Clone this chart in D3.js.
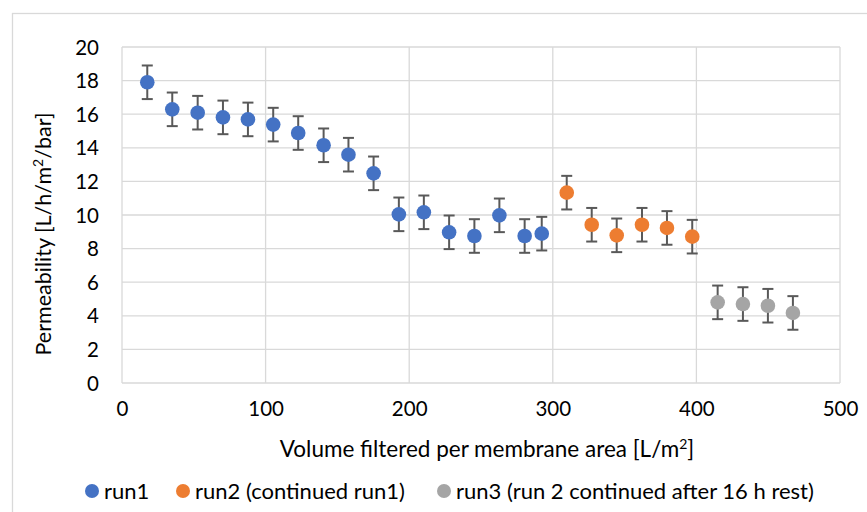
<!DOCTYPE html>
<html><head><meta charset="utf-8">
<script src="https://cdn.jsdelivr.net/npm/d3@7"></script>
<style>body{margin:0;background:#fff}svg{display:block}text{font-family:Lato,"Open Sans",sans-serif;fill:#000}</style>
</head><body>
<svg id="c" width="867" height="512"></svg>
<script>
const run1X=[17.6,35.0,52.7,70.3,87.7,105.3,122.7,140.4,157.7,175.2,192.8,210.2,227.8,245.4,262.8,280.4,292.3];
const run1Y=[17.9,16.29,16.09,15.81,15.69,15.38,14.88,14.15,13.59,12.48,10.04,10.16,8.97,8.75,9.98,8.75,8.89];
const run2X=[309.7,327.1,344.5,362.1,379.5,397.1];
const run2Y=[11.33,9.42,8.79,9.42,9.23,8.71];
const run3X=[414.8,432.4,449.8,467.2];
const run3Y=[4.80,4.70,4.60,4.17];
const errorBar=1.0;
const xTicks=[0,100,200,300,400,500];
const yTicks=[0,2,4,6,8,10,12,14,16,18,20];
const seriesNames=["run1","run2 (continued run1)","run3 (run 2 continued after 16 h rest)"];
const seriesColors=["#4472C4","#ED7D31","#A5A5A5"];

const svg=d3.select("#c");
const L=122,T=47,W=718,H=336;
const x=d3.scaleLinear().domain([0,500]).range([L,L+W]);
const y=d3.scaleLinear().domain([0,20]).range([T+H,T]);

// chart border
svg.append("rect").attr("x",12.5).attr("y",13.5).attr("width",870).attr("height",520)
  .attr("fill","none").attr("stroke","#D9D9D9").attr("stroke-width",1.3);

// grid
const g=svg.append("g");
g.selectAll(".hy").data(yTicks).join("line")
  .attr("x1",L).attr("x2",L+W).attr("y1",d=>y(d)).attr("y2",d=>y(d))
  .attr("stroke","#D9D9D9").attr("stroke-width",1.3);
g.selectAll(".vx").data(xTicks).join("line")
  .attr("y1",T).attr("y2",T+H).attr("x1",d=>x(d)).attr("x2",d=>x(d))
  .attr("stroke","#D9D9D9").attr("stroke-width",1.3);

// axes labels via d3 axes
const xa=svg.append("g").attr("transform",`translate(0,${T+H+15})`)
  .call(d3.axisBottom(x).tickValues(xTicks).tickSize(0).tickPadding(0));
xa.select(".domain").remove();
xa.selectAll("text").attr("font-size",20.5).attr("dy","0.9em").style("font-family","Lato,'Open Sans',sans-serif").attr("fill","#000");
const ya=svg.append("g").attr("transform",`translate(${L-23},0)`)
  .call(d3.axisLeft(y).tickValues(yTicks).tickSize(0).tickPadding(0));
ya.select(".domain").remove();
ya.selectAll("text").attr("font-size",20.5).attr("dy","0.35em").style("font-family","Lato,'Open Sans',sans-serif").attr("fill","#000");

// axis titles
const xt=svg.append("text").attr("x",487).attr("y",457).attr("text-anchor","middle").attr("font-size",22.5);
xt.append("tspan").text("Volume filtered per membrane area [L/m");
xt.append("tspan").attr("baseline-shift","super").attr("font-size",14).text("2");
xt.append("tspan").text("]");
const yt=svg.append("text").attr("transform",`translate(51,234) rotate(-90)`).attr("text-anchor","middle").attr("font-size",21.5);
yt.append("tspan").text("Permeability [L/h/m");
yt.append("tspan").attr("baseline-shift","super").attr("font-size",14).text("2");
yt.append("tspan").text("/bar]");

// series
const series=[[run1X,run1Y],[run2X,run2Y],[run3X,run3Y]];
series.forEach(([xs,ys],si)=>{
  const data=xs.map((v,i)=>({x:v,y:ys[i]}));
  const eg=svg.append("g").attr("stroke","#595959").attr("stroke-width",2);
  data.forEach(d=>{
    eg.append("line").attr("x1",x(d.x)).attr("x2",x(d.x)).attr("y1",y(d.y-errorBar)).attr("y2",y(d.y+errorBar));
    eg.append("line").attr("x1",x(d.x)-5.5).attr("x2",x(d.x)+5.5).attr("y1",y(d.y-errorBar)).attr("y2",y(d.y-errorBar));
    eg.append("line").attr("x1",x(d.x)-5.5).attr("x2",x(d.x)+5.5).attr("y1",y(d.y+errorBar)).attr("y2",y(d.y+errorBar));
  });
  svg.append("g").selectAll("circle").data(data).join("circle")
    .attr("cx",d=>x(d.x)).attr("cy",d=>y(d.y)).attr("r",7.3).attr("fill",seriesColors[si]);
});

// legend
const legX=[92,183,444];
seriesNames.forEach((n,i)=>{
  svg.append("circle").attr("cx",legX[i]).attr("cy",491).attr("r",7).attr("fill",seriesColors[i]);
  svg.append("text").attr("x",legX[i]+12).attr("y",498.5).attr("font-size",22).text(n);
});
</script>
</body></html>
